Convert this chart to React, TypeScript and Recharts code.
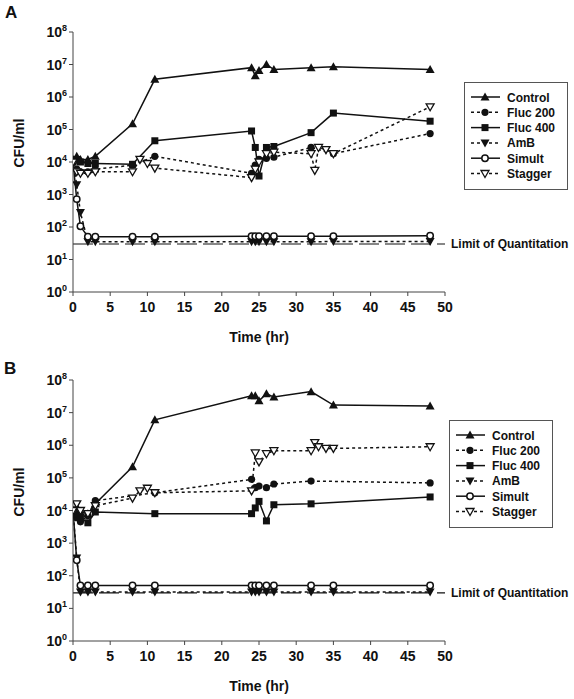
import React from 'react';
import { LineChart, Line, XAxis, YAxis, ReferenceLine } from 'recharts';

const FONT = '"Liberation Sans", Arial, sans-serif';
const INK = '#111';

// time points (hr)
const hoursFull = [0, 0.5, 1, 2, 3, 8, 11, 24, 24.5, 25, 26, 27, 32, 35, 48];
const hoursStagger = [0, 0.5, 1, 2, 3, 8, 9, 10, 11, 24, 24.5, 25, 26, 27, 32, 32.5, 33, 34, 35, 48];
const hoursFlucB = [0, 0.5, 1, 2, 3, 11, 24, 24.5, 25, 26, 27, 32, 48];

// panel A, CFU/ml
const controlA = [1.2e4, 1.5e4, 1.2e4, 1.2e4, 1.5e4, 1.5e5, 3.5e6, 8e6, 4.5e6, 6.5e6, 1e7, 7e6, 8e6, 8.5e6, 7e6];
const fluc200A = [1e4, 6e3, 5e3, 5e3, 6e3, 8e3, 1.5e4, 4.5e3, 8e3, 1.2e4, 1.3e4, 1.4e4, 2.8e4, 1.8e4, 7.5e4];
const fluc400A = [1e4, 1.2e4, 1e4, 9e3, 9e3, 8.5e3, 4.5e4, 9e4, 2.8e4, 3.7e3, 2.8e4, 3e4, 8e4, 3.2e5, 1.8e5];
const amBA = [1e4, 2e3, 2.8e2, 35, 35, 35, 35, 35, 35, 35, 35, 35, 35, 36, 36];
const simultA = [1e4, 7.2e2, 1.05e2, 50, 50, 50, 50, 52, 52, 52, 52, 52, 52, 52, 54];
const staggerA = [1e4, 5e3, 4.5e3, 4.5e3, 5e3, 5e3, 1.2e4, 9e3, 6.5e3, 3.3e3, 6e3, 1e4, 1.8e4, 2e4, 1.8e4, 5.5e3, 2.8e4, 2.4e4, 1.8e4, 5e5];

// panel B, CFU/ml
const controlB = [1e4, 1.3e4, 9e3, 8e3, 1.6e4, 2.2e5, 6e6, 3.3e7, 3.3e7, 2.3e7, 3.8e7, 3e7, 4.4e7, 1.7e7, 1.6e7];
const fluc200B = [1e4, 6e3, 4.5e3, 7e3, 2e4, 3.5e4, 9e4, 5e4, 5.6e4, 5e4, 6.5e4, 8e4, 7e4];
const fluc400B = [1e4, 8e3, 6e3, 4.2e3, 9e3, 8e3, 8e3, 1.2e4, 1.9e4, 4.8e3, 1.5e4, 1.6e4, 2.6e4];
const amBB = [1e4, 3.5e2, 32, 32, 32, 32, 32, 32, 32, 32, 32, 32, 32, 32, 32];
const simultB = [1e4, 3e2, 50, 50, 50, 50, 50, 50, 50, 50, 50, 50, 50, 50, 50];
const staggerB = [1e4, 1.6e4, 1e4, 8e3, 1.4e4, 2.4e4, 4e4, 4.8e4, 3.5e4, 4e4, 5.8e5, 3.1e5, 5.5e5, 6.8e5, 6.8e5, 1.2e6, 9e5, 8e5, 8e5, 9e5];

const seriesNames = ['Control', 'Fluc 200', 'Fluc 400', 'AmB', 'Simult', 'Stagger'];
const xTicks = [0, 5, 10, 15, 20, 25, 30, 35, 40, 45, 50];
const yTicks = [1, 10, 1e2, 1e3, 1e4, 1e5, 1e6, 1e7, 1e8];
const limitOfQuantitation = 30;

const styles: Record<string, { shape: string; dash?: string }> = {
  'Control': { shape: 'triUp' },
  'Fluc 200': { shape: 'circle', dash: '3 3' },
  'Fluc 400': { shape: 'square' },
  'AmB': { shape: 'triDown', dash: '3 3' },
  'Simult': { shape: 'circleOpen' },
  'Stagger': { shape: 'triDownOpen', dash: '3 3' },
};

const zip = (t: number[], v: number[]) => t.map((h, i) => ({ t: h, v: v[i] }));

const panelA = [
  zip(hoursFull, controlA),
  zip(hoursFull, fluc200A),
  zip(hoursFull, fluc400A),
  zip(hoursFull, amBA),
  zip(hoursFull, simultA),
  zip(hoursStagger, staggerA),
];

const panelB = [
  zip(hoursFull, controlB),
  zip(hoursFlucB, fluc200B),
  zip(hoursFlucB, fluc400B),
  zip(hoursFull, amBB),
  zip(hoursFull, simultB),
  zip(hoursStagger, staggerB),
];

function Marker({ shape, cx, cy }: { shape: string; cx: number; cy: number }) {
  switch (shape) {
    case 'triUp':
      return <polygon points={`${cx},${cy - 4.5} ${cx - 4.5},${cy + 3.5} ${cx + 4.5},${cy + 3.5}`} fill={INK} />;
    case 'triDown':
      return <polygon points={`${cx},${cy + 4.5} ${cx - 4.5},${cy - 3.5} ${cx + 4.5},${cy - 3.5}`} fill={INK} />;
    case 'triDownOpen':
      return <polygon points={`${cx},${cy + 4} ${cx - 4},${cy - 3} ${cx + 4},${cy - 3}`} fill="#fff" stroke={INK} strokeWidth={1.3} />;
    case 'circle':
      return <circle cx={cx} cy={cy} r={3.6} fill={INK} />;
    case 'circleOpen':
      return <circle cx={cx} cy={cy} r={3.2} fill="#fff" stroke={INK} strokeWidth={1.5} />;
    default:
      return <rect x={cx - 3.5} y={cy - 3.5} width={7} height={7} fill={INK} />;
  }
}

const LogTick = ({ x, y, payload }: any) => {
  const e = Math.round(Math.log10(payload.value));
  return (
    <text x={x} y={y + 5} textAnchor="end" fontFamily={FONT} fontWeight="bold" fontSize={14} fill={INK}>
      10<tspan dy={-6} fontSize={9}>{e}</tspan>
    </text>
  );
};

function LegendBox({ left, top }: { left: number; top: number }) {
  return (
    <svg width={104} height={108} style={{ position: 'absolute', left, top }}>
      <rect x={0.5} y={0.5} width={103} height={107} fill="#fff" stroke="#555" strokeWidth={1} />
      {seriesNames.map((name, i) => {
        const y = 15 + i * 15.3;
        const st = styles[name];
        return (
          <g key={name}>
            <line x1={7} x2={36} y1={y} y2={y} stroke={INK} strokeWidth={1.5} strokeDasharray={st.dash} />
            <Marker shape={st.shape} cx={21} cy={y} />
            <text x={43} y={y + 4.5} fontFamily={FONT} fontWeight="bold" fontSize={12} fill={INK}>{name}</text>
          </g>
        );
      })}
    </svg>
  );
}

function Panel({ data, height, yLabelY, limitDash }: { data: { t: number; v: number }[][]; height: number; yLabelY: number; limitDash: string }) {
  return (
    <LineChart width={574} height={height} margin={{ top: 32, right: 129, left: 0, bottom: 0 }}>
      <XAxis
        dataKey="t"
        type="number"
        domain={[0, 50]}
        ticks={xTicks}
        allowDataOverflow
        height={58}
        stroke="#444"
        tickSize={4}
        tickMargin={6}
        tick={{ fontFamily: FONT, fontWeight: 'bold', fontSize: 14, fill: INK }}
        label={{ value: 'Time (hr)', position: 'insideBottom', offset: 8, fontFamily: FONT, fontWeight: 'bold', fontSize: 14, fill: INK }}
      />
      <YAxis
        type="number"
        scale="log"
        domain={[1, 1e8]}
        ticks={yTicks}
        allowDataOverflow
        width={73}
        stroke="#444"
        tickSize={4}
        tickMargin={2}
        tick={<LogTick />}
        label={{
          content: () => (
            <text x={24} y={yLabelY} transform={`rotate(-90 24 ${yLabelY})`} textAnchor="middle" fontFamily={FONT} fontWeight="bold" fontSize={14} fill={INK}>
              CFU/ml
            </text>
          ),
        }}
      />
      <ReferenceLine
        y={limitOfQuantitation}
        stroke={INK}
        strokeWidth={1.2}
        strokeDasharray={limitDash}
        label={{ value: 'Limit of Quantitation', position: 'right', offset: 6, fontFamily: FONT, fontWeight: 'bold', fontSize: 12, fill: INK }}
      />
      {data.map((d, i) => {
        const name = seriesNames[i];
        const st = styles[name];
        return (
          <Line
            key={name}
            data={d}
            dataKey="v"
            name={name}
            type="linear"
            stroke={INK}
            strokeWidth={1.5}
            strokeDasharray={st.dash}
            isAnimationActive={false}
            dot={(p: any) => <Marker key={`${name}-${p.index}`} shape={st.shape} cx={p.cx} cy={p.cy} />}
          />
        );
      })}
    </LineChart>
  );
}

export default function App() {
  const letter = { position: 'absolute' as const, fontFamily: FONT, fontWeight: 'bold' as const, fontSize: 17, color: INK };
  return (
    <div style={{ position: 'absolute', left: 0, top: 0, width: 574, height: 699, background: '#fff' }}>
      <div style={{ position: 'absolute', left: 0, top: 0 }}>
        <Panel data={panelA} height={350} yLabelY={143} limitDash="20 6" />
      </div>
      <div style={{ position: 'absolute', left: 0, top: 348 }}>
        <Panel data={panelB} height={351} yLabelY={144} limitDash="20 6" />
      </div>
      <div style={{ ...letter, left: 5, top: 3 }}>A</div>
      <div style={{ ...letter, left: 4, top: 359 }}>B</div>
      <LegendBox left={464} top={82} />
      <LegendBox left={449} top={420} />
    </div>
  );
}
